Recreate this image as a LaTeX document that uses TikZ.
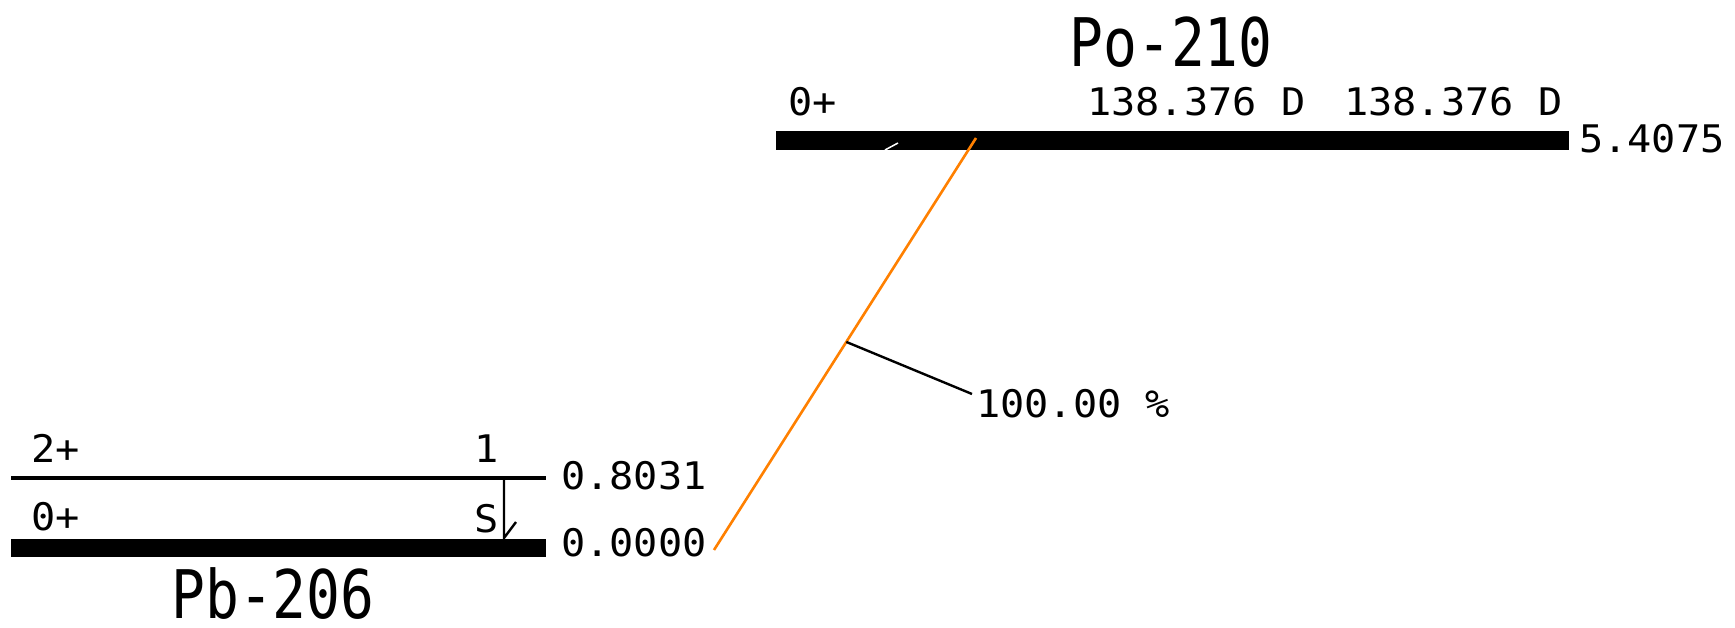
\documentclass[tikz,border=0pt]{standalone}
\usepackage{fontspec}
\usepackage{graphicx}
\usetikzlibrary{calc}
\setmonofont{DejaVu Sans Mono}
\newcommand{\lbltxt}[1]{{\ttfamily\fontsize{38pt}{40pt}\selectfont\scalebox{1.06}[1]{#1}}}
\newcommand{\ttltxt}[1]{{\ttfamily\fontsize{67pt}{69pt}\selectfont\scalebox{0.84}[1]{#1}}}
\begin{document}
\begin{tikzpicture}[x=1pt,y=1pt,
  lbl/.style={inner sep=0pt,anchor=base west},
  ttl/.style={inner sep=0pt,anchor=base},
  gslevel/.style={line width=18pt},
  exlevel/.style={line width=3.5pt},
  decay/.style={draw={rgb,255:red,255;green,128;blue,0},line width=2.6pt},
  pointer/.style={draw=black,line width=2.4pt},
  gamma/.style={draw=black,line width=2.4pt}]
\useasboundingbox (0,0) rectangle (1735,628);
\fill[white] (0,0) rectangle (1735,628);
% Po-210
\coordinate (poL) at (776,487.5);
\coordinate (poR) at (1569,487.5);
\draw[gslevel,line width=19pt] (poL) -- (poR);
\draw[white,line width=1.5pt] (885,478) -- (898,485);
\node[ttl] (potitle) at (1171,561) {\ttltxt{Po-210}};
\node[lbl] (pospin) at (788,512) {\lbltxt{0+}};
\node[lbl] (pohl1) at (1087,512) {\lbltxt{138.376 D}};
\node[lbl] (pohl2) at (1344,512) {\lbltxt{138.376 D}};
\node[lbl] (poen) at (1579,475) {\lbltxt{5.4075}};
% Pb-206
\coordinate (exL) at (11,150);
\coordinate (exR) at (546,150);
\draw[exlevel] (exL) -- (exR);
\coordinate (gsL) at (11,80);
\coordinate (gsR) at (546,80);
\draw[gslevel] (gsL) -- (gsR);
\node[lbl] (exspin) at (31,165.5) {\lbltxt{2+}};
\node[lbl] (exone) at (474,165.5) {\lbltxt{1}};
\node[lbl] (exen) at (561,138) {\lbltxt{0.8031}};
\node[lbl] (gsspin) at (31,97) {\lbltxt{0+}};
\node[lbl] (gss) at (474,95) {\lbltxt{S}};
\node[lbl] (gsen) at (561,71.4) {\lbltxt{0.0000}};
\node[ttl] (pbtitle) at (273,9) {\ttltxt{Pb-206}};
% gamma transition
\coordinate (gtop) at (504,150);
\coordinate (gbot) at (504,90);
\coordinate (gtip) at (516,106);
\draw[gamma] (gtop) -- (gbot) -- (gtip);
% alpha decay
\coordinate (dtop) at (976,490);
\coordinate (dbot) at (714,78);
\draw[decay] (dtop) -- (dbot);
\coordinate (pstart) at ($(dtop)!0.495!(dbot)$);
\node[lbl] (branch) at (976,210) {\lbltxt{100.00 \%}};
\coordinate (pend) at (972,234);
\draw[pointer] (pstart) -- (pend);
\end{tikzpicture}
\end{document}
